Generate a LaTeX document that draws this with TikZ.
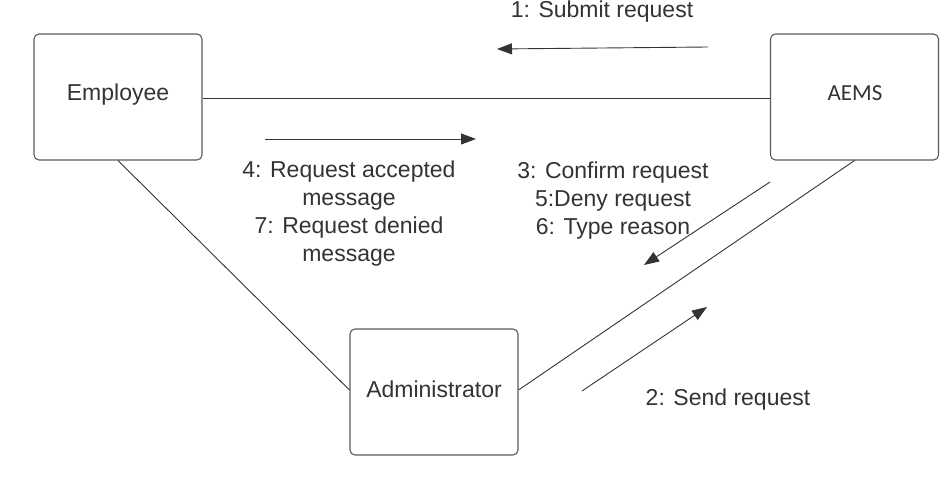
\documentclass[tikz,border=0pt]{standalone}
\usepackage{fontspec}
\setmainfont{Liberation Sans}
\newfontfamily\carlito{Carlito}
\usetikzlibrary{arrows.meta}
\definecolor{ink}{HTML}{333333}
\definecolor{boxline}{HTML}{5A5A5A}
\tikzset{
  actor/.style={draw=boxline, line width=1.1bp, rounded corners=5bp, minimum width=168bp, minimum height=126bp, inner sep=0pt},
  assoc/.style={draw=ink, line width=0.9bp},
  msg/.style={draw=ink, line width=0.9bp, -{Triangle[length=15bp,width=11bp]}},
  lbl/.style={text=ink, align=center, inner sep=0pt, font=\fontsize{23bp}{28bp}\selectfont}
}
\begin{document}
\begin{tikzpicture}[x=1bp,y=-1bp]
\useasboundingbox (0,0) rectangle (951,499);
% actors
\node[actor] (emp) at (118,97) {};
\node[actor] (aems) at (854.5,97) {};
\node[actor] (adm) at (434,392) {};
\node[lbl] (empt) at (118,95) {Employee};
\node[lbl, font=\fontsize{23bp}{28bp}\carlito] (aemst) at (855,93) {AEMS};
\node[lbl] (admt) at (434,389) {Administrator};
% associations
\draw[assoc] (emp.east |- 0,98) -- (aems.west |- 0,98);
\draw[assoc] (emp.south) -- (adm.west |- 0,390);
\draw[assoc] (adm.east |- 0,390) -- (aems.south);
% message arrows
\coordinate (m1s) at (708,47);
\coordinate (m1e) at (497,49);
\coordinate (m4s) at (265,139);
\coordinate (m4e) at (476,139);
\coordinate (m3s) at (770,182);
\coordinate (m3e) at (644,265);
\coordinate (m2s) at (582,391);
\coordinate (m2e) at (707,307);
\draw[msg] (m1s) -- (m1e);
\draw[msg] (m4s) -- (m4e);
\draw[msg] (m3s) -- (m3e);
\draw[msg] (m2s) -- (m2e);
% labels
\node[lbl] (l1) at (602,12) {1: Submit request};
\node[lbl] (l4) at (349,214) {4: Request accepted\\message\\7: Request denied\\message};
\node[lbl] (l3) at (613,201) {3: Confirm request\\5:Deny request\\6: Type reason};
\node[lbl] (l2) at (728,400) {2: Send request};
\end{tikzpicture}
\end{document}
